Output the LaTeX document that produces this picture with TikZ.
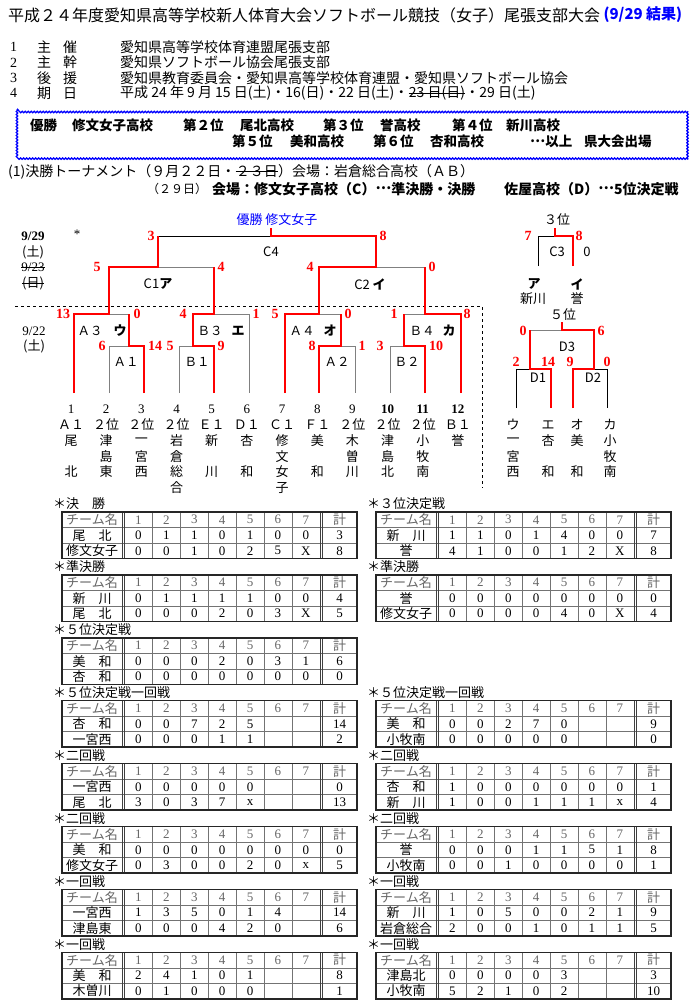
\documentclass[tikz,border=0pt]{standalone}
\usepackage{fontspec}
\setmainfont{Liberation Serif}
\newfontfamily\jp{Noto Sans CJK JP}
\usetikzlibrary{positioning,decorations.pathmorphing}
\begin{document}
\begin{tikzpicture}[x=1pt, y=-1pt, line join=miter,
    ttl/.style={inner sep=0pt, anchor=west, font=\jp\fontsize{16}{18}\selectfont},
    txt/.style={inner sep=0pt, anchor=west, font=\jp\fontsize{14}{16}\selectfont},
    txtb/.style={txt, font=\jp\bfseries\fontsize{14}{16}\selectfont},
    bx/.style={inner sep=0pt, anchor=west, text height=10pt, text depth=2pt, font=\jp\bfseries\fontsize{13.5}{15}\selectfont},
    lab/.style={inner sep=0pt, font=\jp\fontsize{12.5}{14}\selectfont},
    kana/.style={inner sep=0pt, font=\jp\bfseries\fontsize{13}{15}\selectfont},
    team/.style={inner sep=0pt, font=\jp\fontsize{13}{15}\selectfont},
    num/.style={inner sep=0pt, font=\fontsize{13}{15}\selectfont},
    score/.style={inner sep=0pt, text=red, font=\bfseries\fontsize{14}{15}\selectfont},
    redl/.style={red, line width=2.6pt},
    grayl/.style={black!50, line width=.9pt},
    blackl/.style={black, line width=.8pt},
    gridl/.style={black!55, line width=.5pt},
    frame/.style={black!85, line width=1.5pt},
    cell/.style={inner sep=0pt, font=\fontsize{13}{15}\selectfont},
    tabhead/.style={inner sep=0pt, anchor=west, font=\jp\fontsize{13}{15}\selectfont}]
\useasboundingbox (0,0) rectangle (692,1007);
\def\mdots{\smash{\raisebox{.33em}{…}}}
% score tables
\def\scoreframe#1#2#3#4{%
  \node[tabhead] (#1) at (#2-9,#3-8) {＊#4};
  \foreach \k in {1,2} \draw[gridl] (#2,#3+15.5*\k) -- ++(295,0);
  \foreach \k in {1,...,6} \draw[gridl] ({#2+62.5+27.9*\k},#3) -- ++(0,46.5);
  \foreach \u in {60,62.5,257.8,260.3} \draw[gridl, black!75] (#2+\u,#3) -- ++(0,46.5);
  \draw[frame] (#2,#3) rectangle ++(295,46.5);
}
\def\scorerow#1#2#3#4#5{%
  \node[cell, font=\jp\fontsize{13}{15}\selectfont] (#1n) at (#2+30,#3) {#4};
  \foreach \s [count=\c] in {#5} {
    \pgfmathsetmacro\cx{#2+(\c<8 ? 62.5+27.9*(\c-0.5) : 277.65)}
    \node[cell] (#1c\c) at (\cx,#3) {\s};
  }
}
\def\scoretable#1#2#3#4#5#6#7#8{%
  \scoreframe{#1}{#2}{#3}{#4}
  \begin{scope}[every node/.append style={text=black!60}]
    \scorerow{#1h}{#2}{#3+7.75}{チーム名}{1,2,3,4,5,6,7,{\jp 計}}
  \end{scope}
  \scorerow{#1a}{#2}{#3+23.25}{#5}{#6}
  \scorerow{#1b}{#2}{#3+38.75}{#7}{#8}
}

% header
\node[ttl] (title) at (8,15) {平成２４年度愛知県高等学校新人体育大会ソフトボール競技（女子）尾張支部大会};
\node[ttl, text=blue, font=\jp\bfseries\fontsize{15}{18}\selectfont, right=3pt of title] (result) {(9/29 結果)};
\foreach \n/\a/\b/\t [count=\i] in {1/主/催/愛知県高等学校体育連盟尾張支部, 2/主/幹/愛知県ソフトボール協会尾張支部, 3/後/援/愛知県教育委員会・愛知県高等学校体育連盟・愛知県ソフトボール協会, 4/期/日/{}} {
  \node[txt, font=\fontsize{14}{16}\selectfont] (no\i) at (10,{47+15.4*(\i-1)}) {\n};
  \node[txt] (ka\i) at (37,{47+15.4*(\i-1)}) {\a};
  \node[txt] (kb\i) at (63,{47+15.4*(\i-1)}) {\b};
  \node[txt] (it\i) at (120,{47+15.4*(\i-1)}) {\t};
}
\node[txt] (day1) at (120,93.2) {平成 24 年 9 月 15 日(土)・16(日)・22 日(土)・};
\node[txt, right=0pt of day1] (day2) {23 日(日)};
\node[txt, right=0pt of day2] (day3) {・29 日(土)};
\draw (day2.west) -- (day2.east);

% result box
\draw[blue, line width=1.3pt, decorate, decoration={snake, amplitude=.7pt, segment length=3pt}] (17,109) rectangle (687,157);
\foreach \x/\y/\t [count=\i] in {30/126.5/優勝, 72/126.5/修文女子高校, 183/126.5/第２位, 240/126.5/尾北高校, 323/126.5/第３位, 380/126.5/誉高校, 452/126.5/第４位, 506/126.5/新川高校, 232/142.5/第５位, 290/142.5/美和高校, 373/142.5/第６位, 430/142.5/杏和高校, 530/142.5/\mdots 以上, 584/142.5/県大会出場}
  \node[bx] (w\i) at (\x,\y) {\t};

\node[txt] (ven1) at (8,171.5) {(1)決勝トーナメント（９月２２日・};
\node[txt, right=0pt of ven1] (ven2) {２３日};
\node[txt, right=0pt of ven2] (ven3) {）会場：岩倉総合高校（ＡＢ）};
\draw (ven2.west) -- (ven2.east);
\node[txt, font=\jp\fontsize{12}{14}\selectfont] (ven4) at (147,189) {（２９日）};
\node[txtb] (ven5) at (212,189) {会場：修文女子高校（C）\mdots 準決勝・決勝};
\node[txtb] (ven6) at (504,189) {佐屋高校（D）\mdots 5位決定戦};

% tournament
\node[team, text=blue] (champ) at (277,220) {優勝\ 修文女子};
\node[num, font=\bfseries\fontsize{13}{15}\selectfont] (d929) at (33,236) {9/29};
\node[team] (sat1) at (33,252) {(土)};
\node[num] (d923) at (33,267) {9/23};
\node[team] (sun1) at (33,283) {(日)};
\draw (d923.west) -- (d923.east) (sun1.west) -- (sun1.east);
\node[num] (star) at (77,234) {*};
\node[num] (d922) at (34,331) {9/22};
\node[team] (sat2) at (34,346) {(土)};
\draw[dashed, dash pattern=on 3pt off 3pt, line width=.6pt] (15,306) -- (482,306) -- (482,488);

\draw[blackl] (158,236) -- (271,236);
\draw[grayl] (158,267) -- (214,267) (376,267) -- (425,267);
\draw[grayl] (109,314) -- (129,314) (109,393) -- (109,346) -- (129,346);
\draw[grayl] (214,314) -- (249,314) -- (249,393) (179,393) -- (179,346) -- (193,346);
\draw[grayl] (319,314) -- (341,314) (341,346) -- (355,346) -- (355,393);
\draw[grayl] (404,314) -- (425,314) (390,393) -- (390,346) -- (404,346);
\draw[redl] (74,393) -- (74,314) -- (109,314) -- (109,267) -- (158,267) -- (158,236);
\draw[redl] (144,393) -- (144,346) -- (129,346) -- (129,314);
\draw[redl] (214,393) -- (214,346) -- (193,346) -- (193,314) -- (214,314) -- (214,267);
\draw[redl] (285,393) -- (285,314) -- (319,314) -- (319,267) -- (376,267) -- (376,236) -- (271,236) -- (271,228);
\draw[redl] (319,393) -- (319,346) -- (341,346) -- (341,314);
\draw[redl] (425,393) -- (425,346) -- (404,346) -- (404,314);
\draw[redl] (461,393) -- (461,314) -- (425,314) -- (425,267);

\node[team] (c4) at (271,252) {C4};
\node[team] (c1) at (158,284) {C1{\bfseries ア}};
\node[team] (c2) at (370,284) {C2 {\bfseries イ}};
\foreach \x/\y/\t [count=\i] in {90/331/Ａ３, 126/362/Ａ１, 210/331/Ｂ３, 197/362/Ｂ１, 302/331/Ａ４, 337/362/Ａ２, 422/331/Ｂ４, 407/362/Ｂ２}
  \node[lab] (r\i) at (\x,\y) {\t};
\foreach \x/\t [count=\i] in {120/ウ, 238/エ, 330/オ, 449/カ}
  \node[kana] (k\i) at (\x,331) {\t};
\foreach \x/\y/\s [count=\i] in {151/236/3, 383/236/8, 97/267/5, 221/267/4, 310/267/4, 432/267/0, 63/314/13, 137/314/0, 102/346/6, 155/346/14, 183/314/4, 256/314/1, 170/346/5, 221/346/9, 275/314/5, 348/314/0, 312/346/8, 362/346/1, 394/314/1, 467/314/8, 380/346/3, 436/346/10, 528/236/7, 579/236/8, 523/331/0, 601/331/6, 516/362/2, 548/362/14, 570/362/9, 607/362/0}
  \node[score] (sc\i) at (\x,\y) {\s};

\foreach \n/\g/\a/\b/\c/\d [count=\i] in {1/Ａ１/尾/{}/北/{}, 2/２位/津/島/東/{}, 3/２位/一/宮/西/{}, 4/２位/岩/倉/総/合, 5/Ｅ１/新/{}/川/{}, 6/Ｄ１/杏/{}/和/{}, 7/Ｃ１/修/文/女/子, 8/Ｆ１/美/{}/和/{}, 9/２位/木/曽/川/{}, {\bfseries 10}/２位/津/島/北/{}, {\bfseries 11}/２位/小/牧/南/{}, {\bfseries 12}/Ｂ１/誉/{}/{}/{}} {
  \pgfmathsetmacro\tx{71+35.18*(\i-1)}
  \node[num] (tn\i) at (\tx,409) {\n};
  \node[team] (tg\i) at (\tx,425) {\g};
  \node[team] (ta\i) at (\tx,441) {\a};
  \node[team] (tb\i) at (\tx,457) {\b};
  \node[team] (tc\i) at (\tx,472) {\c};
  \node[team] (td\i) at (\tx,488) {\d};
}

% 3rd place and 5th place
\node[team] (third) at (557,220) {３位};
\draw[blackl] (538,266) -- (538,236) -- (555,236);
\draw[redl] (573,266) -- (573,236) -- (555,236) -- (555,228);
\node[team] (c3) at (557,252) {C3};
\node[team] (c3z) at (587,252) {0};
\node[kana] (ka) at (534,284) {ア};
\node[kana] (ki) at (577,284) {イ};
\node[team] (kan) at (533,299) {新川};
\node[team] (kih) at (577,299) {誉};
\node[team] (fifth) at (563,315) {５位};
\draw[grayl] (530,330) -- (562,330);
\draw[blackl] (516,408) -- (516,369) -- (530,369) (594,369) -- (607,369) -- (607,408);
\draw[redl] (573,408) -- (573,369) -- (594,369) -- (594,330) -- (562,330) -- (562,322);
\draw[redl] (551,408) -- (551,369) -- (530,369) -- (530,330);
\node[team] (d3) at (567,347) {D3};
\node[team] (d1) at (538,378) {D1};
\node[team] (d2) at (593,378) {D2};
\foreach \x/\a/\b/\c/\d [count=\i] in {513/ウ/一/宮/西, 548/エ/杏/{}/和, 577/オ/美/{}/和, 610/カ/小/牧/南} {
  \node[team] (pa\i) at (\x,425) {\a};
  \node[team] (pb\i) at (\x,441) {\b};
  \node[team] (pc\i) at (\x,457) {\c};
  \node[team] (pd\i) at (\x,472) {\d};
}

% line scores
\scoretable{fin}{62}{512}{決　勝}{尾　北}{0,1,1,0,1,0,0,3}{修文女子}{0,0,1,0,2,5,X,8}
\scoretable{sfa}{62}{574.9}{準決勝}{新　川}{0,1,1,1,1,0,0,4}{尾　北}{0,0,0,2,0,3,X,5}
\scoretable{pfi}{62}{637.8}{５位決定戦}{美　和}{0,0,0,2,0,3,1,6}{杏　和}{0,0,0,0,0,0,0,0}
\scoretable{pfa}{62}{700.7}{５位決定戦一回戦}{杏　和}{0,0,7,2,5,{},{},14}{一宮西}{0,0,0,1,1,{},{},2}
\scoretable{sra}{62}{763.6}{二回戦}{一宮西}{0,0,0,0,0,{},{},0}{尾　北}{3,0,3,7,x,{},{},13}
\scoretable{srb}{62}{826.5}{二回戦}{美　和}{0,0,0,0,0,0,0,0}{修文女子}{0,3,0,0,2,0,x,5}
\scoretable{fra}{62}{889.4}{一回戦}{一宮西}{1,3,5,0,1,4,{},14}{津島東}{0,0,0,4,2,0,{},6}
\scoretable{frb}{62}{952.3}{一回戦}{美　和}{2,4,1,0,1,{},{},8}{木曽川}{0,1,0,0,0,{},{},1}
\scoretable{thd}{376}{512}{３位決定戦}{新　川}{1,1,0,1,4,0,0,7}{誉}{4,1,0,0,1,2,X,8}
\scoretable{sfb}{376}{574.9}{準決勝}{誉}{0,0,0,0,0,0,0,0}{修文女子}{0,0,0,0,4,0,X,4}
\scoretable{pfb}{376}{700.7}{５位決定戦一回戦}{美　和}{0,0,2,7,0,{},{},9}{小牧南}{0,0,0,0,0,{},{},0}
\scoretable{src}{376}{763.6}{二回戦}{杏　和}{1,0,0,0,0,0,0,1}{新　川}{1,0,0,1,1,1,x,4}
\scoretable{srd}{376}{826.5}{二回戦}{誉}{0,0,0,1,1,5,1,8}{小牧南}{0,0,1,0,0,0,0,1}
\scoretable{frc}{376}{889.4}{一回戦}{新　川}{1,0,5,0,0,2,1,9}{岩倉総合}{2,0,0,1,0,1,1,5}
\scoretable{frd}{376}{952.3}{一回戦}{津島北}{0,0,0,0,3,{},{},3}{小牧南}{5,2,1,0,2,{},{},10}
\end{tikzpicture}
\end{document}
